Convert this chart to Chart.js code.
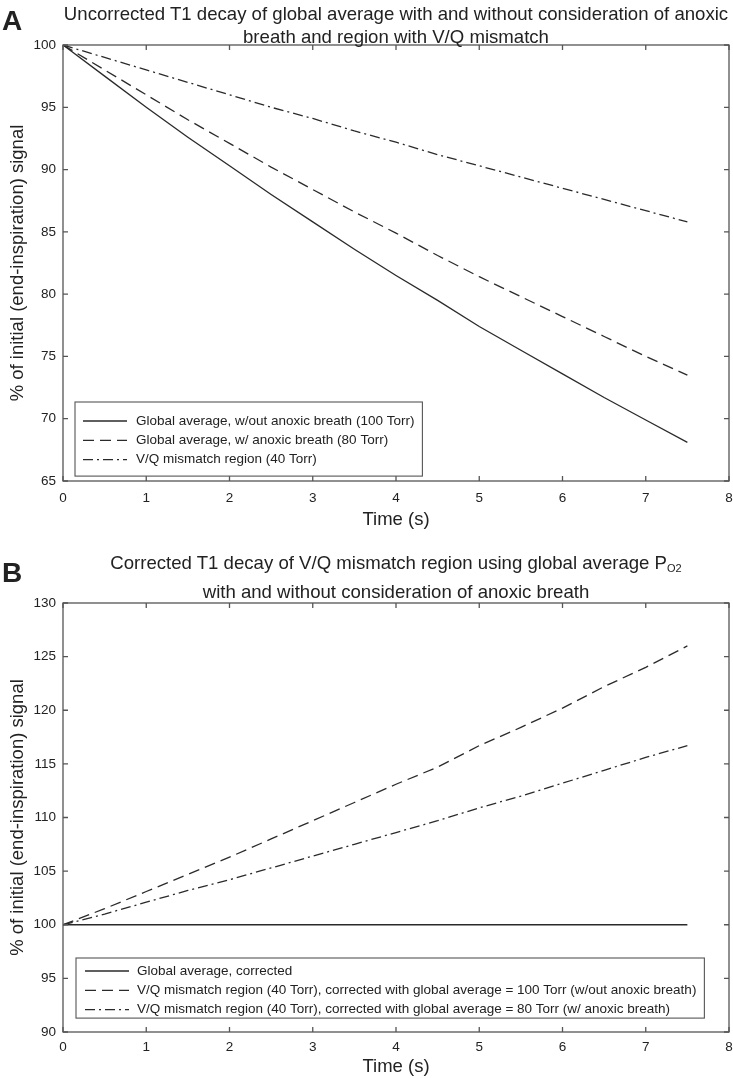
<!DOCTYPE html>
<html>
<head>
<meta charset="utf-8">
<script src="https://cdn.jsdelivr.net/npm/chart.js@4.4.1/dist/chart.umd.min.js"></script>
<style>
  body { margin: 0; width: 733px; height: 1079px; overflow: hidden; background: #fff; position: relative; font-family: 'Liberation Sans', Arial, sans-serif; color: #222; }
  .box { position: absolute; left: 0; width: 733px; }
  .panel { position: absolute; left: 2px; font-weight: bold; font-size: 28px; }
  .title { position: absolute; left: 40px; width: 712px; text-align: center; font-size: 18.6px; line-height: 23px; }
  .title sub { font-size: 11px; vertical-align: -3px; }
</style>
</head>
<body>
<div class="box" style="top:0;height:532px"><canvas id="chartA"></canvas></div>
<div class="box" style="top:545px;height:534px"><canvas id="chartB"></canvas></div>
<div class="panel" style="top:5px">A</div>
<div class="title" style="top:2px">Uncorrected T1 decay of global average with and without consideration of anoxic<br>breath and region with V/Q mismatch</div>
<div class="panel" style="top:557px">B</div>
<div class="title" style="top:551px">Corrected T1 decay of V/Q mismatch region using global average P<sub>O2</sub><br>with and without consideration of anoxic breath</div>
<script>
// time axis (s)
const timeS = [0, 0.5, 1, 1.5, 2, 2.5, 3, 3.5, 4, 4.5, 5, 5.5, 6, 6.5, 7, 7.5];

// panel A - uncorrected signal (%)
const globalNoAnoxic = [100, 97.5, 95.0, 92.6, 90.3, 88.0, 85.8, 83.6, 81.5, 79.5, 77.4, 75.5, 73.6, 71.7, 69.9, 68.1];
const globalAnoxic   = [100, 98.0, 96.0, 94.0, 92.1, 90.2, 88.4, 86.6, 84.9, 83.1, 81.4, 79.8, 78.2, 76.6, 75.0, 73.5];
const vqRegion       = [100, 99.0, 98.0, 97.0, 96.0, 95.0, 94.1, 93.1, 92.2, 91.2, 90.3, 89.4, 88.5, 87.6, 86.7, 85.8];

// panel B - corrected signal (%)
const globalCorrected = [100, 100, 100, 100, 100, 100, 100, 100, 100, 100, 100, 100, 100, 100, 100, 100];
const vqCorr100 = [100, 101.5, 103.1, 104.7, 106.3, 108.0, 109.7, 111.4, 113.1, 114.7, 116.7, 118.4, 120.2, 122.2, 124.0, 126.0];
const vqCorr80  = [100, 101.0, 102.1, 103.2, 104.2, 105.3, 106.4, 107.5, 108.6, 109.7, 110.9, 112.0, 113.2, 114.4, 115.6, 116.7];

// tick labels
const xTicks = [0, 1, 2, 3, 4, 5, 6, 7, 8];
const yTicksA = [65, 70, 75, 80, 85, 90, 95, 100];
const yTicksB = [90, 95, 100, 105, 110, 115, 120, 125, 130];

const labelsA = [
    'Global average, w/out anoxic breath (100 Torr)',
    'Global average, w/ anoxic breath (80 Torr)',
    'V/Q mismatch region (40 Torr)'
];
const labelsB = [
    'Global average, corrected',
    'V/Q mismatch region (40 Torr), corrected with global average = 100 Torr (w/out anoxic breath)',
    'V/Q mismatch region (40 Torr), corrected with global average = 80 Torr (w/ anoxic breath)'
];

const LINE = '#2a2a2a';
const AXIS = '#555';
const FONT = "'Liberation Sans', Arial, sans-serif";
const dashes = [[], [11, 6], [10, 4, 2, 4]];

function pts(ys) {
    return timeS.map((t, i) => ({ x: t, y: ys[i] }));
}

function makeSets(labels, series) {
    return series.map((s, i) => ({
        label: labels[i],
        data: pts(s),
        borderColor: LINE,
        borderWidth: 1.3,
        borderDash: dashes[i],
        pointRadius: 0,
        fill: false,
        tension: 0
    }));
}

// matlab style box with inward ticks on all four sides
const boxTicks = {
    id: 'boxTicks',
    afterDatasetsDraw(chart) {
        const { ctx, chartArea: a, scales: { x, y } } = chart;
        ctx.save();
        ctx.strokeStyle = AXIS;
        ctx.lineWidth = 1.3;
        ctx.strokeRect(a.left, a.top, a.right - a.left, a.bottom - a.top);
        ctx.beginPath();
        const len = 5;
        x.ticks.forEach(t => {
            const px = x.getPixelForValue(t.value);
            ctx.moveTo(px, a.bottom); ctx.lineTo(px, a.bottom - len);
            ctx.moveTo(px, a.top); ctx.lineTo(px, a.top + len);
        });
        y.ticks.forEach(t => {
            const py = y.getPixelForValue(t.value);
            ctx.moveTo(a.left, py); ctx.lineTo(a.left + len, py);
            ctx.moveTo(a.right, py); ctx.lineTo(a.right - len, py);
        });
        ctx.stroke();
        ctx.restore();
    }
};

// legend box inside the plot, bottom left
const innerLegend = {
    id: 'innerLegend',
    afterDraw(chart, args, opts) {
        const { ctx } = chart;
        const sets = chart.data.datasets;
        ctx.save();
        ctx.font = '13.5px ' + FONT;
        let w = 0;
        sets.forEach(d => { w = Math.max(w, ctx.measureText(d.label).width); });
        const bx = opts.left, by = opts.top;
        const bw = opts.textX - bx + w + 8;
        const bh = opts.firstRow + opts.rowH * (sets.length - 1) + opts.lastPad;
        ctx.fillStyle = '#fff';
        ctx.fillRect(bx, by, bw, bh);
        ctx.strokeStyle = AXIS;
        ctx.lineWidth = 1.1;
        ctx.strokeRect(bx, by, bw, bh);
        sets.forEach((d, i) => {
            const ry = by + opts.firstRow + opts.rowH * i;
            ctx.strokeStyle = LINE;
            ctx.lineWidth = 1.3;
            ctx.setLineDash(d.borderDash);
            ctx.beginPath();
            ctx.moveTo(opts.lineX, ry);
            ctx.lineTo(opts.lineX + 44, ry);
            ctx.stroke();
            ctx.setLineDash([]);
            ctx.fillStyle = '#222';
            ctx.textBaseline = 'middle';
            ctx.fillText(d.label, opts.textX, ry);
        });
        ctx.restore();
    }
};

function makeOptions(yMin, yMax, yTicks, pad, xHeight, tickPad, legend) {
    return {
        responsive: true,
        maintainAspectRatio: false,
        animation: false,
        layout: { padding: pad },
        plugins: {
            legend: { display: false },
            tooltip: { enabled: false },
            innerLegend: legend
        },
        scales: {
            x: {
                type: 'linear',
                min: xTicks[0],
                max: xTicks[xTicks.length - 1],
                afterBuildTicks: s => { s.ticks = xTicks.map(v => ({ value: v })); },
                afterFit: s => { s.height = xHeight; s.paddingRight = 0; s.paddingLeft = 0; },
                grid: { display: false, drawTicks: false },
                border: { display: false },
                ticks: { color: '#222', padding: tickPad, maxRotation: 0, font: { family: FONT, size: 13.5 } },
                title: { display: true, text: 'Time (s)', color: '#222', padding: { top: 0, bottom: 1 }, font: { family: FONT, size: 18.5 } }
            },
            y: {
                min: yMin,
                max: yMax,
                afterBuildTicks: s => { s.ticks = yTicks.map(v => ({ value: v })); },
                afterFit: s => { s.width = 63; },
                grid: { display: false, drawTicks: false },
                border: { display: false },
                ticks: { color: '#222', padding: 7, font: { family: FONT, size: 13.5 } },
                title: { display: true, text: '% of initial (end-inspiration) signal', color: '#222', padding: { top: 7, bottom: 0 }, font: { family: FONT, size: 18.5 } }
            }
        }
    };
}

new Chart(document.getElementById('chartA'), {
    type: 'line',
    data: { datasets: makeSets(labelsA, [globalNoAnoxic, globalAnoxic, vqRegion]) },
    options: makeOptions(65, 100, yTicksA, { top: 45, right: 4, left: 0, bottom: 0 }, 51, 9,
        { left: 75, top: 402, firstRow: 19, rowH: 19.3, lastPad: 16.5, lineX: 83, textX: 136 }),
    plugins: [boxTicks, innerLegend]
});

new Chart(document.getElementById('chartB'), {
    type: 'line',
    data: { datasets: makeSets(labelsB, [globalCorrected, vqCorr100, vqCorr80]) },
    options: makeOptions(90, 130, yTicksB, { top: 58, right: 4, left: 0, bottom: 0 }, 47, 7,
        { left: 76, top: 413, firstRow: 13, rowH: 19.3, lastPad: 8.5, lineX: 85, textX: 137 }),
    plugins: [boxTicks, innerLegend]
});
</script>
</body>
</html>
